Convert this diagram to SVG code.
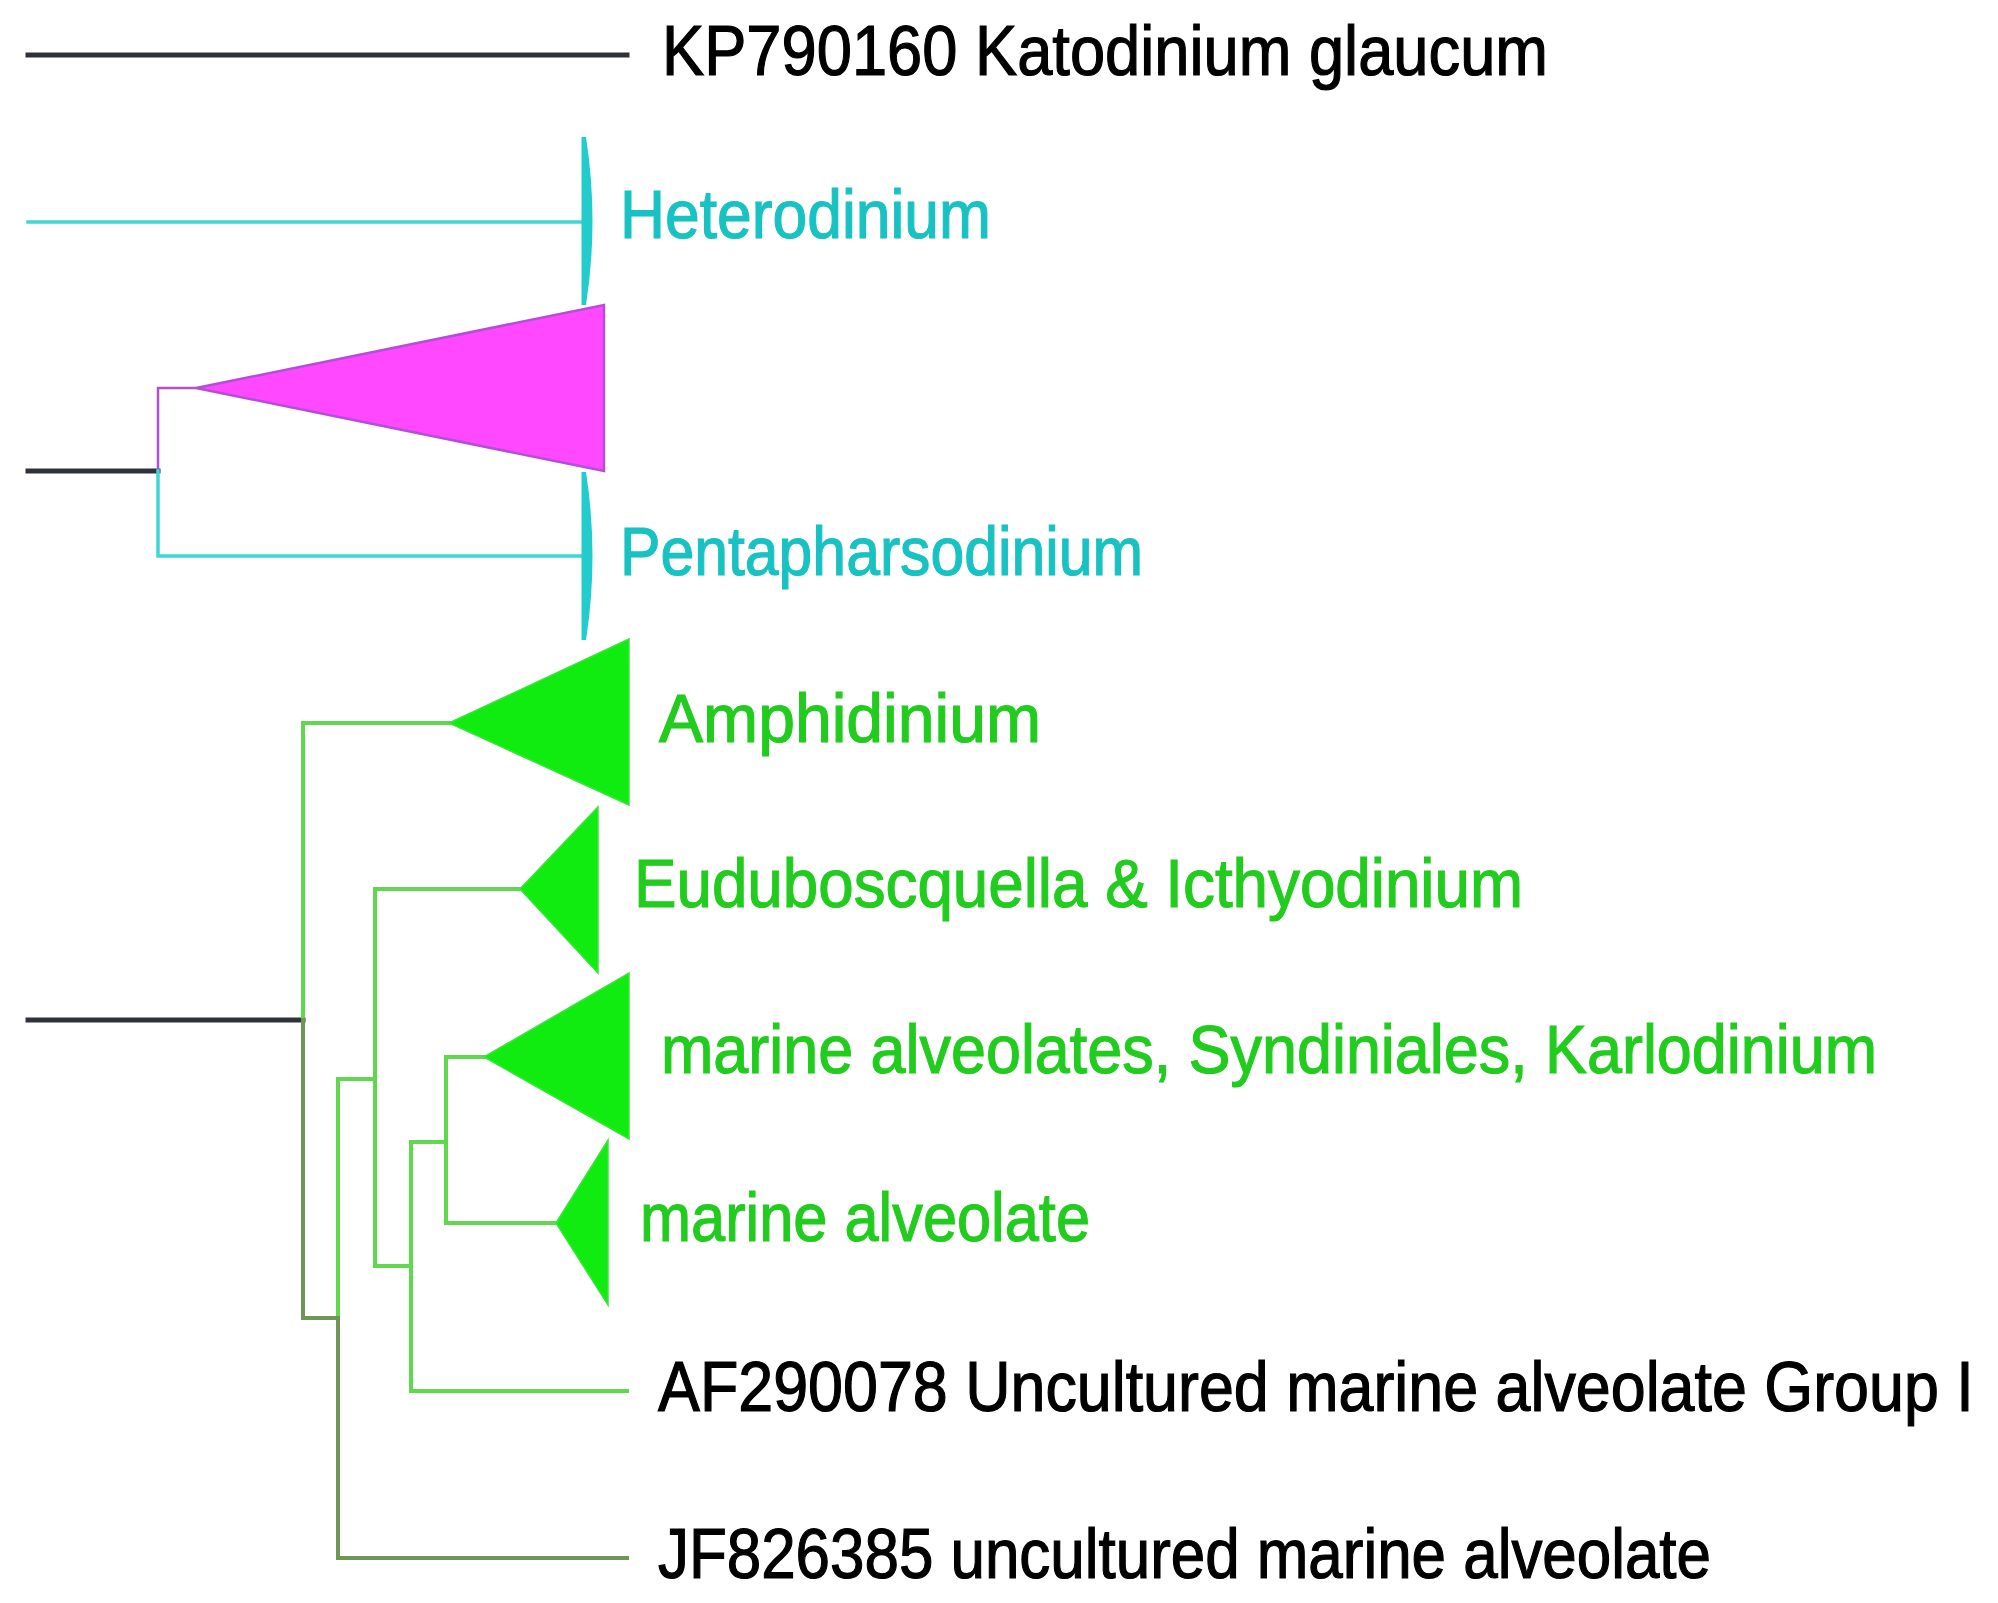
<svg xmlns="http://www.w3.org/2000/svg" width="1998" height="1603" viewBox="0 0 1998 1603">
<style>
text{font-family:"Liberation Sans",Arial,Helvetica,sans-serif;font-size:70px;stroke-width:1.2}
.tk{fill:#000;stroke:#000}
.tc{fill:#19c2c2;stroke:#19c2c2;font-size:68px}
.tg{fill:#22cc1e;stroke:#22cc1e;font-size:69px}
.lk{stroke:#2f3239;stroke-width:5;fill:none;stroke-linecap:square}
.lc{stroke:#3fd6d6;stroke-width:3.5;fill:none;stroke-linecap:square}
.lm{stroke:#b34fd6;stroke-width:2.5;fill:none}
.lg{stroke:#5fd84e;stroke-width:4;fill:none;stroke-linecap:square}
.lo{stroke:#6f9656;stroke-width:4;fill:none;stroke-linecap:square}
.fg{fill:#10ec10;stroke:#3be43b;stroke-width:1.5}
.fm{fill:#ff48ff;stroke:#b34fd6;stroke-width:2.5}
.br{fill:#22cccc}
</style>
<rect width="1998" height="1603" fill="#fff"/>
<g id="connectors">
  <line class="lk" x1="28" y1="55" x2="627" y2="55"/>
  <line class="lc" x1="28" y1="222" x2="584" y2="222"/>
  <line class="lk" x1="28" y1="471" x2="158" y2="471"/>
  <polyline class="lm" points="196,388 158,388 158,471"/>
  <polyline class="lc" points="158,471 158,556 584,556"/>
  <line class="lk" x1="28" y1="1020" x2="303" y2="1020"/>
  <polyline class="lg" points="449,723 303,723 303,1020"/>
  <polyline class="lo" points="303,1020 303,1318 338,1318"/>
  <polyline class="lg" points="375,1079 338,1079 338,1318"/>
  <polyline class="lo" points="338,1318 338,1558 627,1558"/>
  <polyline class="lg" points="520,889 375,889 375,1266 411,1266"/>
  <polyline class="lg" points="446,1142 411,1142 411,1391 627,1391"/>
  <polyline class="lg" points="484,1057 446,1057 446,1223 556,1223"/>
</g>
<g id="node-katodinium">
  <text class="tk" x="662" y="75" textLength="886" lengthAdjust="spacingAndGlyphs">KP790160 Katodinium glaucum</text>
</g>
<g id="node-heterodinium">
  <path class="br" d="M581.5 137 L586 137 Q599 221 586 305 L581.5 305 Z"/>
  <text class="tc" x="620" y="238" textLength="371" lengthAdjust="spacingAndGlyphs">Heterodinium</text>
</g>
<g id="node-magenta-clade">
  <polygon class="fm" points="196,388 604,305 604,471"/>
</g>
<g id="node-pentapharsodinium">
  <path class="br" d="M581.5 472 L586 472 Q599 556 586 640 L581.5 640 Z"/>
  <text class="tc" x="620" y="575" textLength="523" lengthAdjust="spacingAndGlyphs">Pentapharsodinium</text>
</g>
<g id="node-amphidinium">
  <polygon class="fg" points="449,723 629,639 629,805"/>
  <text class="tg" x="659" y="742" textLength="382" lengthAdjust="spacingAndGlyphs">Amphidinium</text>
</g>
<g id="node-euduboscquella">
  <polygon class="fg" points="520,889 598,807 598,973"/>
  <text class="tg" x="634" y="907" textLength="889" lengthAdjust="spacingAndGlyphs">Euduboscquella &amp; Icthyodinium</text>
</g>
<g id="node-syndiniales">
  <polygon class="fg" points="484,1057 629,973 629,1139"/>
  <text class="tg" x="661" y="1073" textLength="1216" lengthAdjust="spacingAndGlyphs">marine alveolates, Syndiniales, Karlodinium</text>
</g>
<g id="node-marine-alveolate">
  <polygon class="fg" points="556,1223 608,1140 608,1305"/>
  <text class="tg" x="640" y="1241" textLength="450" lengthAdjust="spacingAndGlyphs">marine alveolate</text>
</g>
<g id="node-af290078">
  <text class="tk" transform="translate(658,1411) scale(0.897,1)" x="0" y="0">AF290078 Uncultured marine alveolate Group I</text>
</g>
<g id="node-jf826385">
  <text class="tk" x="658" y="1578" textLength="1053" lengthAdjust="spacingAndGlyphs">JF826385 uncultured marine alveolate</text>
</g>
</svg>
